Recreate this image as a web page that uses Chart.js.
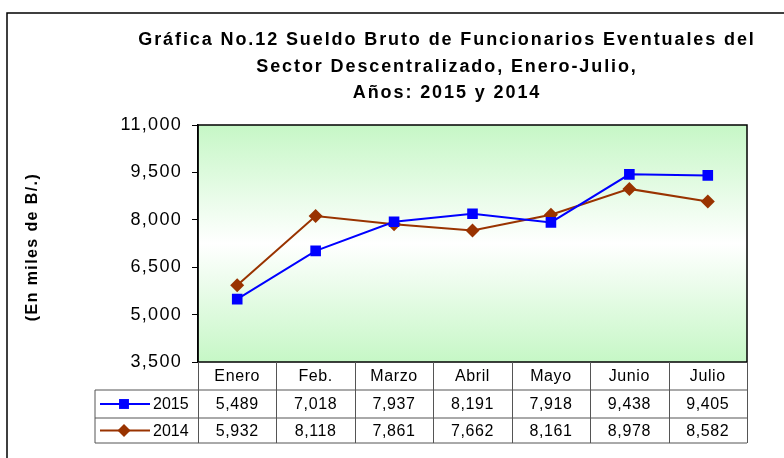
<!DOCTYPE html>
<html>
<head>
<meta charset="utf-8">
<script src="https://cdn.jsdelivr.net/npm/chart.js@4.4.1/dist/chart.umd.min.js"></script>
<style>
  html, body { margin: 0; padding: 0; background: #fff; }
  #wrap { width: 784px; height: 458px; position: relative; }
</style>
</head>
<body>
<div id="wrap"><canvas id="sueldoChart" width="784" height="458"></canvas></div>
<script>
// Months shown in the table row under the plot
const meses = ["Enero", "Feb.", "Marzo", "Abril", "Mayo", "Junio", "Julio"];
// Gross salary in thousands of B/.
const sueldo2015 = [5489, 7018, 7937, 8191, 7918, 9438, 9405];
const sueldo2014 = [5932, 8118, 7861, 7662, 8161, 8978, 8582];
const yTicks = [3500, 5000, 6500, 8000, 9500, 11000];
const tituloLineas = [
  "Gráfica No.12 Sueldo Bruto de Funcionarios Eventuales del",
  "Sector Descentralizado, Enero-Julio,",
  "Años: 2015 y 2014"
];
const tituloEje = "(En miles de B/.)";

const FONT = "Arial, 'Liberation Sans', sans-serif";
const fmt = v => v.toLocaleString("en-US");

// Green - white - green background of the plot area
// (also widens the letters a bit, the original was rendered that way)
const fondoPlot = {
  id: "fondoPlot",
  beforeDraw(chart) {
    const { ctx, chartArea: a } = chart;
    const g = ctx.createLinearGradient(0, a.top, 0, a.bottom);
    g.addColorStop(0, "#c6f7c6");
    g.addColorStop(0.5, "#ffffff");
    g.addColorStop(1, "#c6f7c6");
    ctx.save();
    ctx.fillStyle = g;
    ctx.fillRect(a.left, a.top, a.right - a.left, a.bottom - a.top);
    ctx.restore();
    ctx.letterSpacing = "1.3px";
  }
};

// Title, frame, plot border and the data table under the chart
const tablaDatos = {
  id: "tablaDatos",
  afterDraw(chart) {
    const { ctx, chartArea: a } = chart;
    const x = chart.scales.x;
    const colW = (a.right - a.left) / meses.length;
    ctx.save();

    // outer frame (goes off the picture on the right and bottom)
    ctx.strokeStyle = "#000";
    ctx.lineWidth = 1.5;
    ctx.beginPath();
    ctx.moveTo(7, 460);
    ctx.lineTo(7, 13);
    ctx.lineTo(790, 13);
    ctx.stroke();

    // title
    ctx.fillStyle = "#000";
    ctx.font = "bold 18px " + FONT;
    ctx.letterSpacing = "1.9px";
    ctx.textAlign = "center";
    ctx.textBaseline = "middle";
    const tops = [40, 67, 93];
    tituloLineas.forEach((t, i) => ctx.fillText(t, 447, tops[i]));

    // y axis title
    ctx.save();
    ctx.translate(33, 247);
    ctx.rotate(-Math.PI / 2);
    ctx.font = "bold 16px " + FONT;
    ctx.letterSpacing = "1.4px";
    ctx.fillText(tituloEje, 0, 0);
    ctx.restore();

    // plot border
    ctx.lineWidth = 1.5;
    ctx.strokeRect(a.left, a.top, a.right - a.left, a.bottom - a.top);

    // table grid
    const r0 = a.bottom, r1 = r0 + 28, r2 = r1 + 28, r3 = r2 + 25;
    const leftT = 95;
    ctx.strokeStyle = "#555";
    ctx.lineWidth = 1;
    ctx.beginPath();
    ctx.moveTo(leftT, r1); ctx.lineTo(a.right, r1);
    ctx.moveTo(leftT, r2); ctx.lineTo(a.right, r2);
    ctx.moveTo(leftT, r3); ctx.lineTo(a.right, r3);
    ctx.moveTo(leftT, r1); ctx.lineTo(leftT, r3);
    for (let i = 0; i <= meses.length; i++) {
      const cx = Math.round(a.left + i * colW) + 0.5;
      ctx.moveTo(cx, r0); ctx.lineTo(cx, r3);
    }
    ctx.stroke();

    // table text
    ctx.fillStyle = "#000";
    ctx.font = "16px " + FONT;
    ctx.letterSpacing = "0.6px";
    ctx.textAlign = "center";
    meses.forEach((m, i) => {
      const cx = x.getPixelForValue(i);
      ctx.fillText(m, cx, (r0 + r1) / 2 + 1);
      ctx.fillText(fmt(sueldo2015[i]), cx, (r1 + r2) / 2 + 1);
      ctx.fillText(fmt(sueldo2014[i]), cx, (r2 + r3) / 2 + 1);
    });

    // legend keys inside the table
    const claves = [
      { label: "2015", color: "#0000ff", style: "rect", y: (r1 + r2) / 2 },
      { label: "2014", color: "#993300", style: "rectRot", y: (r2 + r3) / 2 }
    ];
    ctx.letterSpacing = "0px";
    claves.forEach(k => {
      ctx.strokeStyle = k.color;
      ctx.lineWidth = 2;
      ctx.beginPath();
      ctx.moveTo(100, k.y); ctx.lineTo(150, k.y);
      ctx.stroke();
      ctx.fillStyle = k.color;
      Chart.helpers.drawPoint(ctx, { pointStyle: k.style, radius: k.style === "rect" ? 7 : 6.5, borderWidth: 0 }, 124, k.y);
      ctx.fillStyle = "#000";
      ctx.textAlign = "left";
      ctx.fillText(k.label, 153, k.y + 1);
    });
    ctx.restore();
  }
};

new Chart(document.getElementById("sueldoChart"), {
  type: "line",
  data: {
    labels: meses,
    datasets: [
      {
        label: "2015",
        data: sueldo2015,
        borderColor: "#0000ff",
        backgroundColor: "#0000ff",
        borderWidth: 2,
        pointStyle: "rect",
        pointRadius: 7.5,
        pointBorderWidth: 0
      },
      {
        label: "2014",
        data: sueldo2014,
        borderColor: "#993300",
        backgroundColor: "#993300",
        borderWidth: 2,
        pointStyle: "rectRot",
        pointRadius: 7,
        pointBorderWidth: 0
      }
    ]
  },
  options: {
    responsive: false,
    animation: false,
    layout: { padding: { top: 125, left: 16, right: 37, bottom: 96 } },
    plugins: {
      legend: { display: false },
      title: { display: false },
      tooltip: { enabled: false }
    },
    scales: {
      x: { display: false, offset: true },
      y: {
        min: 3500,
        max: 11000,
        afterFit: s => { s.width = 182; },
        afterBuildTicks: s => { s.ticks = yTicks.map(v => ({ value: v })); },
        grid: { drawOnChartArea: false, drawTicks: true, tickLength: 6, color: "#000" },
        border: { display: true, color: "#000", width: 1.5 },
        ticks: {
          color: "#000",
          padding: 10,
          font: { family: FONT, size: 18 },
          callback: v => fmt(v)
        }
      }
    }
  },
  plugins: [fondoPlot, tablaDatos]
});
</script>
</body>
</html>
